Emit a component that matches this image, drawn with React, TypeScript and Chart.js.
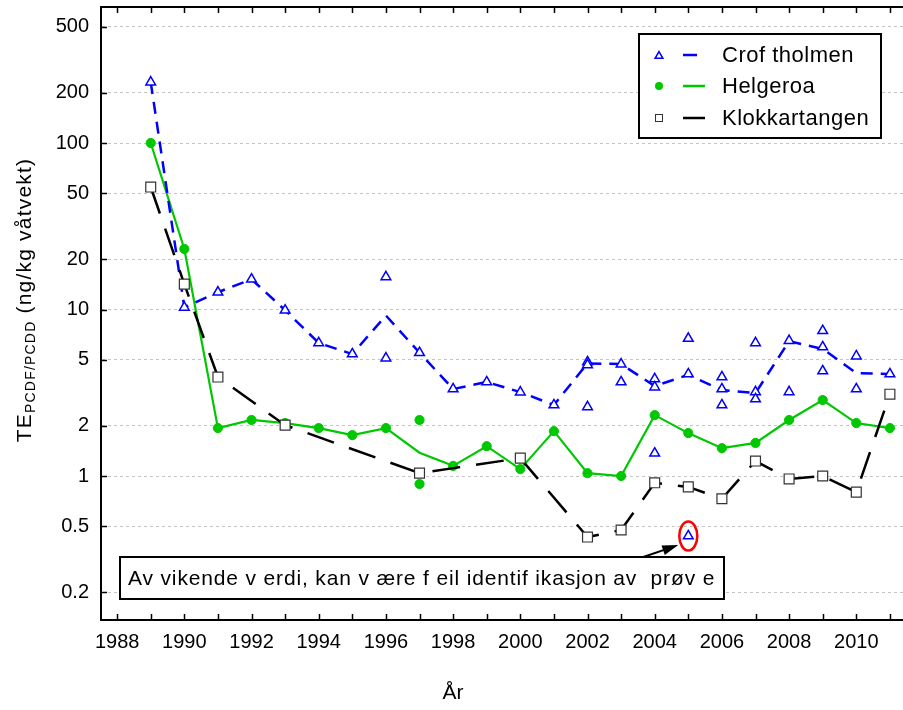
import React, { useEffect, useRef } from "react";
import { Chart, registerables } from "chart.js";

Chart.register(...registerables);

// ---------- data ----------
const trendYears = [1989, 1990, 1991, 1992, 1993, 1994, 1995, 1996, 1997, 1998, 1999, 2000, 2001, 2002, 2003, 2004, 2005, 2006, 2007, 2008, 2009, 2010, 2011];

const croftYears = [1989, 1990, 1991, 1992, 1993, 1994, 1995, 1996, 1996, 1997, 1998, 1999, 2000, 2001, 2002, 2002, 2002, 2003, 2003, 2004, 2004, 2004, 2005, 2005, 2005, 2006, 2006, 2006, 2007, 2007, 2007, 2008, 2008, 2009, 2009, 2009, 2010, 2010, 2011];
const croftValues = [232, 10.3, 12.7, 15.2, 9.9, 6.3, 5.4, 15.7, 5.1, 5.5, 3.33, 3.67, 3.19, 2.67, 4.84, 4.65, 2.6, 4.7, 3.67, 3.83, 3.42, 1.37, 6.7, 4.1, 0.436, 3.93, 3.33, 2.67, 6.3, 3.2, 2.9, 6.5, 3.2, 7.45, 5.95, 4.27, 5.25, 3.33, 4.1];
const croftTrend = [232, 10.3, 12.7, 15.2, 9.9, 6.3, 5.4, 9.2, 5.5, 3.33, 3.67, 3.19, 2.67, 4.75, 4.7, 3.47, 4.05, 3.28, 3.15, 6.45, 5.8, 4.15, 4.1];

const helgYears = [1989, 1990, 1991, 1992, 1993, 1994, 1995, 1996, 1997, 1997, 1998, 1999, 2000, 2001, 2002, 2003, 2004, 2005, 2006, 2007, 2008, 2009, 2010, 2011];
const helgValues = [100, 23.1, 1.94, 2.17, 2.08, 1.94, 1.76, 1.94, 2.17, 0.895, 1.15, 1.51, 1.1, 1.86, 1.04, 1.0, 2.32, 1.81, 1.47, 1.58, 2.17, 2.86, 2.08, 1.94];
const helgTrend = [100, 23.1, 1.94, 2.17, 2.08, 1.94, 1.76, 1.94, 1.38, 1.15, 1.51, 1.1, 1.86, 1.04, 1.0, 2.32, 1.81, 1.47, 1.58, 2.17, 2.86, 2.08, 1.94];

const klokYears = [1989, 1990, 1991, 1993, 1997, 2000, 2002, 2003, 2004, 2005, 2006, 2007, 2008, 2009, 2010, 2011];
const klokValues = [54.4, 14.2, 3.93, 2.02, 1.04, 1.28, 0.43, 0.474, 0.91, 0.86, 0.73, 1.23, 0.96, 1.0, 0.8, 3.1];

const xTickValues = [1988, 1989, 1990, 1991, 1992, 1993, 1994, 1995, 1996, 1997, 1998, 1999, 2000, 2001, 2002, 2003, 2004, 2005, 2006, 2007, 2008, 2009, 2010, 2011];
const yTickValues = [0.2, 0.5, 1, 2, 5, 10, 20, 50, 100, 200, 500];

const seriesNames = ["Crof tholmen", "Helgeroa", "Klokkartangen"];
const outlierYear = 2005;
const outlierValue = 0.436;
const noteText = "Av vikende v erdi, kan v ære f eil identif ikasjon av  prøv e";
const xTitle = "År";
const yTitleMain = "TE";
const yTitleSub = "PCDF/PCDD";
const yTitleRest = " (ng/kg våtvekt)";

const BLUE = "#0000ff";
const GREEN = "#00c800";
const BLACK = "#000000";
const FONT = "'Liberation Sans', Arial, Helvetica, sans-serif";

const pairs = (xs: number[], ys: number[]) => xs.map((x, i) => ({ x, y: ys[i] }));

function drawTri(ctx: CanvasRenderingContext2D, x: number, y: number, r: number) {
  ctx.beginPath();
  for (let k = 0; k < 3; k++) {
    const a = (k * 2 * Math.PI) / 3;
    const px = x + Math.sin(a) * r;
    const py = y - Math.cos(a) * r;
    if (k === 0) ctx.moveTo(px, py);
    else ctx.lineTo(px, py);
  }
  ctx.closePath();
  ctx.fillStyle = "#fff";
  ctx.fill();
  ctx.strokeStyle = BLUE;
  ctx.lineWidth = 1.5;
  ctx.setLineDash([]);
  ctx.stroke();
}

const decorPlugin = {
  id: "decor",
  afterDraw(chart: any) {
    const { ctx, chartArea: ca, scales } = chart;
    const xs = scales.x;
    const ys = scales.y;
    ctx.save();
    ctx.setLineDash([]);
    // top frame
    ctx.strokeStyle = "#000";
    ctx.lineWidth = 2;
    ctx.beginPath();
    ctx.moveTo(ca.left - 1, ca.top);
    ctx.lineTo(ca.right, ca.top);
    ctx.stroke();
    // inward ticks
    ctx.lineWidth = 1.5;
    ctx.beginPath();
    xTickValues.forEach((v) => {
      const px = Math.round(xs.getPixelForValue(v)) + 0.5;
      ctx.moveTo(px, ca.bottom);
      ctx.lineTo(px, ca.bottom - 6);
      ctx.moveTo(px, ca.top);
      ctx.lineTo(px, ca.top + 6);
    });
    yTickValues.forEach((v) => {
      const py = Math.round(ys.getPixelForValue(v)) + 0.5;
      ctx.moveTo(ca.left, py);
      ctx.lineTo(ca.left + 6, py);
    });
    ctx.stroke();

    // annotation box
    const bx = ca.left + 19, by = 557, bw = 604, bh = 42;
    ctx.fillStyle = "#fff";
    ctx.fillRect(bx, by, bw, bh);
    ctx.lineWidth = 2;
    ctx.strokeStyle = "#000";
    ctx.strokeRect(bx, by, bw, bh);
    ctx.fillStyle = "#000";
    ctx.font = `21px ${FONT}`;
    (ctx as any).letterSpacing = "0.85px";
    ctx.textAlign = "left";
    ctx.textBaseline = "middle";
    ctx.fillText(noteText, bx + 8, by + bh / 2 + 1);
    (ctx as any).letterSpacing = "0px";

    // ellipse around outlier
    const ox = xs.getPixelForValue(outlierYear);
    const oy = ys.getPixelForValue(outlierValue);
    ctx.strokeStyle = "#ff0000";
    ctx.lineWidth = 2.5;
    ctx.beginPath();
    ctx.ellipse(ox, oy, 9, 14.5, 0, 0, Math.PI * 2);
    ctx.stroke();
    // arrow
    const tipX = ox - 10, tipY = oy + 9;
    const sx = ox - 45, sy = by;
    const ang = Math.atan2(tipY - sy, tipX - sx);
    ctx.strokeStyle = "#000";
    ctx.lineWidth = 2;
    ctx.beginPath();
    ctx.moveTo(sx, sy);
    ctx.lineTo(tipX - Math.cos(ang) * 8, tipY - Math.sin(ang) * 8);
    ctx.stroke();
    ctx.fillStyle = "#000";
    ctx.beginPath();
    ctx.moveTo(tipX, tipY);
    ctx.lineTo(tipX - Math.cos(ang) * 16 + Math.sin(ang) * 5, tipY - Math.sin(ang) * 16 - Math.cos(ang) * 5);
    ctx.lineTo(tipX - Math.cos(ang) * 16 - Math.sin(ang) * 5, tipY - Math.sin(ang) * 16 + Math.cos(ang) * 5);
    ctx.closePath();
    ctx.fill();

    // legend
    const lx = 639, ly = 34, lw = 242, lh = 104;
    ctx.fillStyle = "#fff";
    ctx.fillRect(lx, ly, lw, lh);
    ctx.strokeStyle = "#000";
    ctx.lineWidth = 2;
    ctx.strokeRect(lx, ly, lw, lh);
    const rows = [55, 86, 118];
    // markers
    drawTri(ctx, 659, rows[0] + 1, 4.5);
    ctx.fillStyle = GREEN;
    ctx.beginPath();
    ctx.arc(659, rows[1], 4, 0, Math.PI * 2);
    ctx.fill();
    ctx.fillStyle = "#fff";
    ctx.strokeStyle = "#333";
    ctx.lineWidth = 1;
    ctx.fillRect(655.5, rows[2] - 3.5, 7, 7);
    ctx.strokeRect(655.5, rows[2] - 3.5, 7, 7);
    // lines
    const lineCols = [BLUE, GREEN, BLACK];
    lineCols.forEach((c, i) => {
      ctx.strokeStyle = c;
      ctx.lineWidth = 2.5;
      ctx.beginPath();
      ctx.moveTo(683, rows[i]);
      ctx.lineTo(i === 0 ? 697 : 705, rows[i]);
      ctx.stroke();
    });
    ctx.fillStyle = "#000";
    ctx.font = `22px ${FONT}`;
    (ctx as any).letterSpacing = "0.5px";
    ctx.textBaseline = "middle";
    seriesNames.forEach((n, i) => ctx.fillText(n, 722, rows[i] + 1));
    (ctx as any).letterSpacing = "0px";

    // x title
    ctx.font = `21px ${FONT}`;
    ctx.textAlign = "center";
    ctx.textBaseline = "middle";
    ctx.fillText(xTitle, 453, 693);

    // y title (rotated)
    ctx.save();
    ctx.translate(31, 300);
    ctx.rotate(-Math.PI / 2);
    ctx.textBaseline = "alphabetic";
    ctx.textAlign = "left";
    (ctx as any).letterSpacing = "1.2px";
    ctx.font = `21px ${FONT}`;
    const w1 = ctx.measureText(yTitleMain).width;
    ctx.font = `14px ${FONT}`;
    const w2 = ctx.measureText(yTitleSub).width;
    ctx.font = `21px ${FONT}`;
    const w3 = ctx.measureText(yTitleRest).width;
    const total = w1 + w2 + w3;
    let cx = -total / 2;
    ctx.fillText(yTitleMain, cx, 0);
    cx += w1;
    ctx.font = `14px ${FONT}`;
    ctx.fillText(yTitleSub, cx, 4);
    cx += w2;
    ctx.font = `21px ${FONT}`;
    ctx.fillText(yTitleRest, cx, 0);
    ctx.restore();

    ctx.restore();
  },
};

export default function App() {
  const canvasRef = useRef<HTMLCanvasElement | null>(null);

  useEffect(() => {
    if (!canvasRef.current) return;
    Chart.defaults.font.family = FONT;
    const chart = new Chart(canvasRef.current, {
      type: "line",
      data: {
        datasets: [
          {
            label: seriesNames[2],
            data: pairs(klokYears, klokValues),
            borderColor: BLACK,
            borderWidth: 2.5,
            borderDash: [28, 16],
            pointStyle: "rect",
            pointRadius: 7,
            pointBackgroundColor: "#fff",
            pointBorderColor: "#333",
            pointBorderWidth: 1.2,
            order: 1,
          } as any,
          {
            label: seriesNames[0],
            data: pairs(croftYears, croftValues),
            showLine: false,
            pointStyle: "triangle",
            pointRadius: 5.6,
            pointBackgroundColor: "#fff",
            pointBorderColor: BLUE,
            pointBorderWidth: 1.5,
            order: 2,
          } as any,
          {
            label: seriesNames[1],
            data: pairs(helgYears, helgValues),
            showLine: false,
            pointStyle: "circle",
            pointRadius: 4.6,
            pointBackgroundColor: GREEN,
            pointBorderColor: GREEN,
            pointBorderWidth: 1,
            order: 3,
          } as any,
          {
            label: seriesNames[0] + " trend",
            data: pairs(trendYears, croftTrend),
            borderColor: BLUE,
            borderWidth: 2.5,
            borderDash: [12, 8],
            pointRadius: 0,
            order: 4,
          } as any,
          {
            label: seriesNames[1] + " trend",
            data: pairs(trendYears, helgTrend),
            borderColor: GREEN,
            borderWidth: 2.2,
            pointRadius: 0,
            order: 5,
          } as any,
        ],
      },
      options: {
        responsive: false,
        animation: false,
        devicePixelRatio: 1,
        layout: { padding: { top: 7, left: 0, right: 0, bottom: 0 }, autoPadding: false } as any,
        plugins: { legend: { display: false }, tooltip: { enabled: false } },
        elements: { line: { tension: 0 } },
        scales: {
          x: {
            type: "linear",
            min: 1987.52,
            max: 2011.39,
            grid: { display: false, drawTicks: false },
            border: { display: true, color: "#000", width: 2 },
            afterBuildTicks: (scale: any) => {
              scale.ticks = xTickValues.map((v) => ({ value: v }));
            },
            afterFit: (scale: any) => {
              scale.height = 90;
              scale.paddingLeft = 0;
              scale.paddingRight = 0;
            },
            ticks: {
              autoSkip: false,
              maxRotation: 0,
              padding: 10,
              color: "#000",
              font: { size: 20, family: FONT },
              callback: (v: any) => (Number(v) % 2 === 0 ? String(v) : ""),
            },
          },
          y: {
            type: "logarithmic",
            min: 0.1365,
            max: 656,
            grid: { display: true, drawTicks: false, color: "#c4c4c4", lineWidth: 1 },
            border: { display: true, color: "#000", width: 2, dash: [3, 3] },
            afterBuildTicks: (scale: any) => {
              scale.ticks = yTickValues.map((v) => ({ value: v }));
            },
            afterFit: (scale: any) => {
              scale.width = 101;
              scale.paddingTop = 0;
              scale.paddingBottom = 0;
            },
            ticks: {
              autoSkip: false,
              padding: 12,
              color: "#000",
              font: { size: 20, family: FONT },
              callback: (v: any) => String(v),
            },
          },
        },
      } as any,
      plugins: [decorPlugin],
    });
    return () => chart.destroy();
  }, []);

  return (
    <div style={{ position: "absolute", left: 0, top: 0, width: 903, height: 710, background: "#fff" }}>
      <canvas ref={canvasRef} width={903} height={710} style={{ display: "block" }} />
    </div>
  );
}
